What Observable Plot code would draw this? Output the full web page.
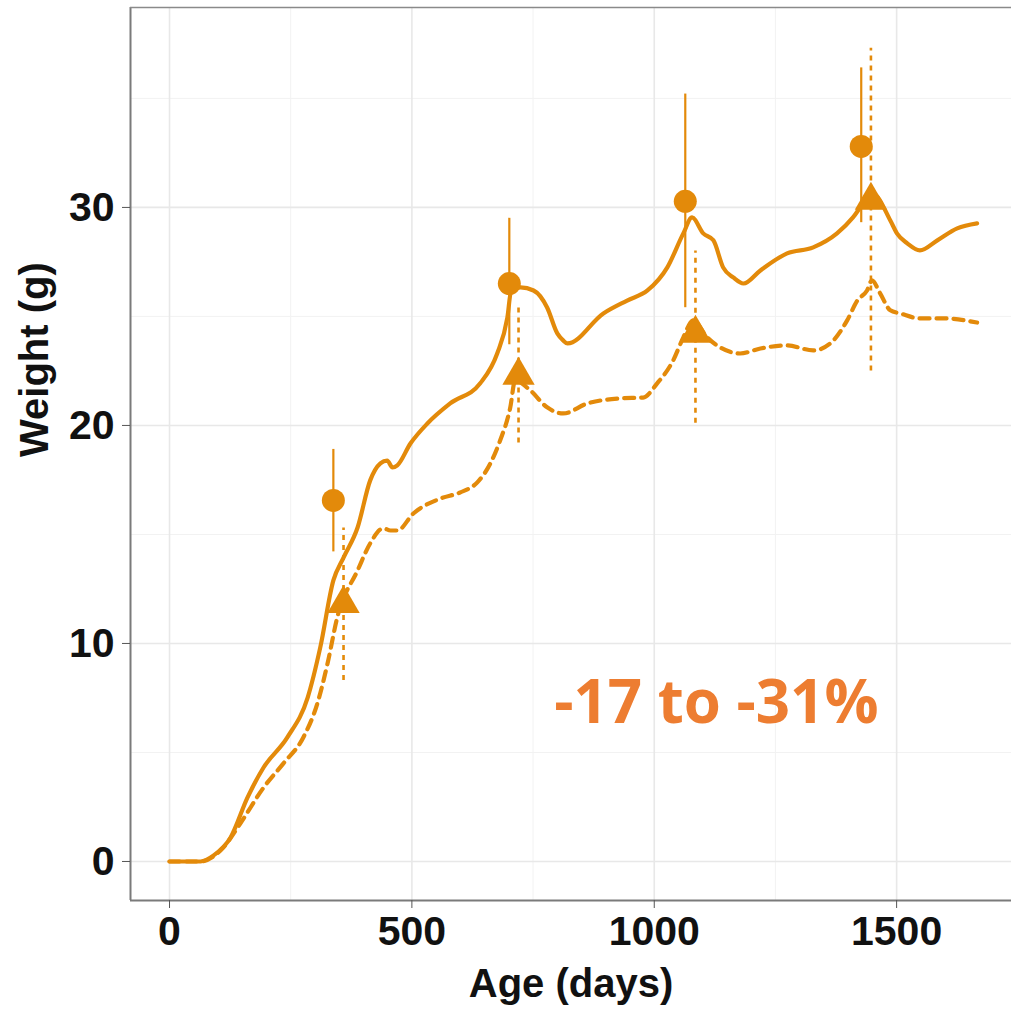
<!DOCTYPE html>
<html>
<head>
<meta charset="utf-8">
<script src="https://cdn.jsdelivr.net/npm/d3@7"></script>
<script src="https://cdn.jsdelivr.net/npm/@observablehq/plot@0.6"></script>
<style>
  html, body { margin: 0; padding: 0; background: #fff; }
  #chart svg { display: block; }
</style>
</head>
<body>
<div id="chart"></div>
<script>
// Control (solid line) growth curve
const ageControl = [0, 64, 91, 126, 161, 194, 243, 285, 311, 338, 359, 388, 414, 435, 449, 460, 470, 497, 532, 579, 641, 676, 697, 705, 724, 751, 779, 800, 812, 821, 895, 944, 986, 1027, 1060, 1078, 1101, 1122, 1142, 1163, 1184, 1219, 1274, 1328, 1377, 1410, 1431, 1452, 1487, 1501, 1522, 1548, 1584, 1625, 1666];
const weightControl = [0, 0, 0.28, 1.10, 2.94, 4.31, 5.69, 7.52, 9.82, 12.89, 13.94, 15.32, 17.48, 18.26, 18.39, 18.07, 18.17, 19.17, 20.09, 21.01, 21.93, 23.30, 24.95, 26.19, 26.33, 26.19, 25.41, 24.22, 23.90, 23.76, 25.14, 25.73, 26.19, 27.25, 28.81, 29.54, 28.81, 28.49, 27.25, 26.79, 26.51, 27.11, 27.89, 28.17, 28.81, 29.54, 30.18, 30.6, 29.4, 28.8, 28.35, 28.03, 28.49, 29.04, 29.27];

// Treatment (dashed line) growth curve
const ageTreat = [0, 64, 111, 146, 194, 235, 276, 305, 326, 346, 388, 414, 441, 456, 470, 503, 559, 600, 635, 662, 682, 703, 713, 744, 779, 812, 862, 930, 977, 1006, 1039, 1060, 1080, 1109, 1136, 1177, 1219, 1274, 1328, 1363, 1398, 1419, 1439, 1449, 1466, 1487, 1507, 1548, 1596, 1666];
const weightTreat = [0, 0, 0.64, 1.74, 3.39, 4.50, 5.69, 7.25, 9.08, 11.19, 13.35, 14.59, 15.28, 15.18, 15.18, 15.96, 16.65, 16.93, 17.39, 18.26, 19.31, 20.83, 22.06, 21.61, 20.83, 20.55, 21.01, 21.24, 21.28, 21.93, 22.98, 24.04, 24.82, 24.04, 23.58, 23.30, 23.53, 23.67, 23.44, 23.76, 24.82, 25.73, 26.19, 26.65, 26.06, 25.28, 25.14, 24.91, 24.91, 24.72];

// Observed means with ranges (circles: control, triangles: treatment)
const circleAge = [338, 701, 1064, 1427];
const circleWeight = [16.56, 26.51, 30.28, 32.80];
const circleLow = [14.2, 23.7, 25.4, 29.3];
const circleHigh = [18.9, 29.5, 35.2, 36.4];

const triAge = [359, 720, 1085, 1447];
const triWeight = [11.83, 22.29, 24.22, 30.32];
const triLow = [8.3, 19.2, 20.1, 22.5];
const triHigh = [15.3, 25.4, 28.0, 37.3];

const xMajor = [0, 500, 1000, 1500];
const xMinor = [250, 750, 1250];
const yMajor = [0, 10, 20, 30];
const yMinor = [5, 15, 25, 35];

const annotation = "-17 to -31%";
const xTitle = "Age (days)";
const yTitle = "Weight (g)";

const control = ageControl.map((a, i) => ({age: a, weight: weightControl[i]}));
const treat = ageTreat.map((a, i) => ({age: a, weight: weightTreat[i]}));
const circles = circleAge.map((a, i) => ({age: a, weight: circleWeight[i], lo: circleLow[i], hi: circleHigh[i]}));
const tris = triAge.map((a, i) => ({age: a, weight: triWeight[i], lo: triLow[i], hi: triHigh[i]}));

const col = "#E38A0A";
const font = "'Liberation Sans', Arial, Helvetica, sans-serif";

const chart = Plot.plot({
  width: 1011,
  height: 1010,
  marginLeft: 130,
  marginRight: 0,
  marginTop: 7,
  marginBottom: 110,
  style: {fontFamily: font, background: "#fff", overflow: "visible"},
  x: {domain: [-80.5, 1737]},
  y: {domain: [-1.79, 39.17]},
  marks: [
    Plot.gridX(xMinor, {stroke: "#f2f2f2", strokeOpacity: 1, strokeWidth: 1}),
    Plot.gridY(yMinor, {stroke: "#f2f2f2", strokeOpacity: 1, strokeWidth: 1}),
    Plot.gridX(xMajor, {stroke: "#e8e8e8", strokeOpacity: 1, strokeWidth: 1.6}),
    Plot.gridY(yMajor, {stroke: "#e8e8e8", strokeOpacity: 1, strokeWidth: 1.6}),
    Plot.line(control, {x: "age", y: "weight", stroke: col, strokeWidth: 4.2, curve: "monotone-x"}),
    Plot.line(treat, {x: "age", y: "weight", stroke: col, strokeWidth: 4.2, strokeDasharray: "10,7", curve: "monotone-x"}),
    Plot.ruleX(circles, {x: "age", y1: "lo", y2: "hi", stroke: col, strokeWidth: 2.2}),
    Plot.ruleX(tris, {x: "age", y1: "lo", y2: "hi", stroke: col, strokeWidth: 2.6, strokeDasharray: "5,5"}),
    Plot.dot(circles, {x: "age", y: "weight", r: 11.5, symbol: "circle", fill: col, stroke: "none"}),
    Plot.dot(tris, {x: "age", y: "weight", r: 12, symbol: "triangle", fill: col, stroke: "none"}),
    Plot.text([annotation], {x: 1128, y: 7.25, text: d => d, fill: "#ED7D31", fontSize: 60, fontWeight: "bold", fontFamily: "'Open Sans', Lato, sans-serif", textAnchor: "middle", lineAnchor: "middle"}),
    Plot.ruleX([-80.5], {stroke: "#7a7a7a", strokeWidth: 2}),
    Plot.ruleY([-1.79], {stroke: "#7a7a7a", strokeWidth: 2}),
    Plot.ruleY([39.17], {stroke: "#8a8a8a", strokeWidth: 1.5}),
    Plot.axisX(xMajor, {tickSize: 8, tickPadding: 7, fontSize: 41, fontWeight: "bold", stroke: "#555", fill: "#111", label: null, tickFormat: d => String(d)}),
    Plot.axisY(yMajor, {tickSize: 8, tickPadding: 8, fontSize: 41, fontWeight: "bold", stroke: "#555", fill: "#111", label: null, tickFormat: d => String(d)}),
    Plot.text([xTitle], {frameAnchor: "bottom", dy: 84, text: d => d, fontSize: 40, fontWeight: "bold", fill: "#111", lineAnchor: "middle"}),
    Plot.text([yTitle], {frameAnchor: "left", dx: -95, dy: 3, rotate: -90, text: d => d, fontSize: 40, fontWeight: "bold", fill: "#111", lineAnchor: "middle"})
  ]
});
document.getElementById("chart").appendChild(chart);
</script>
</body>
</html>
